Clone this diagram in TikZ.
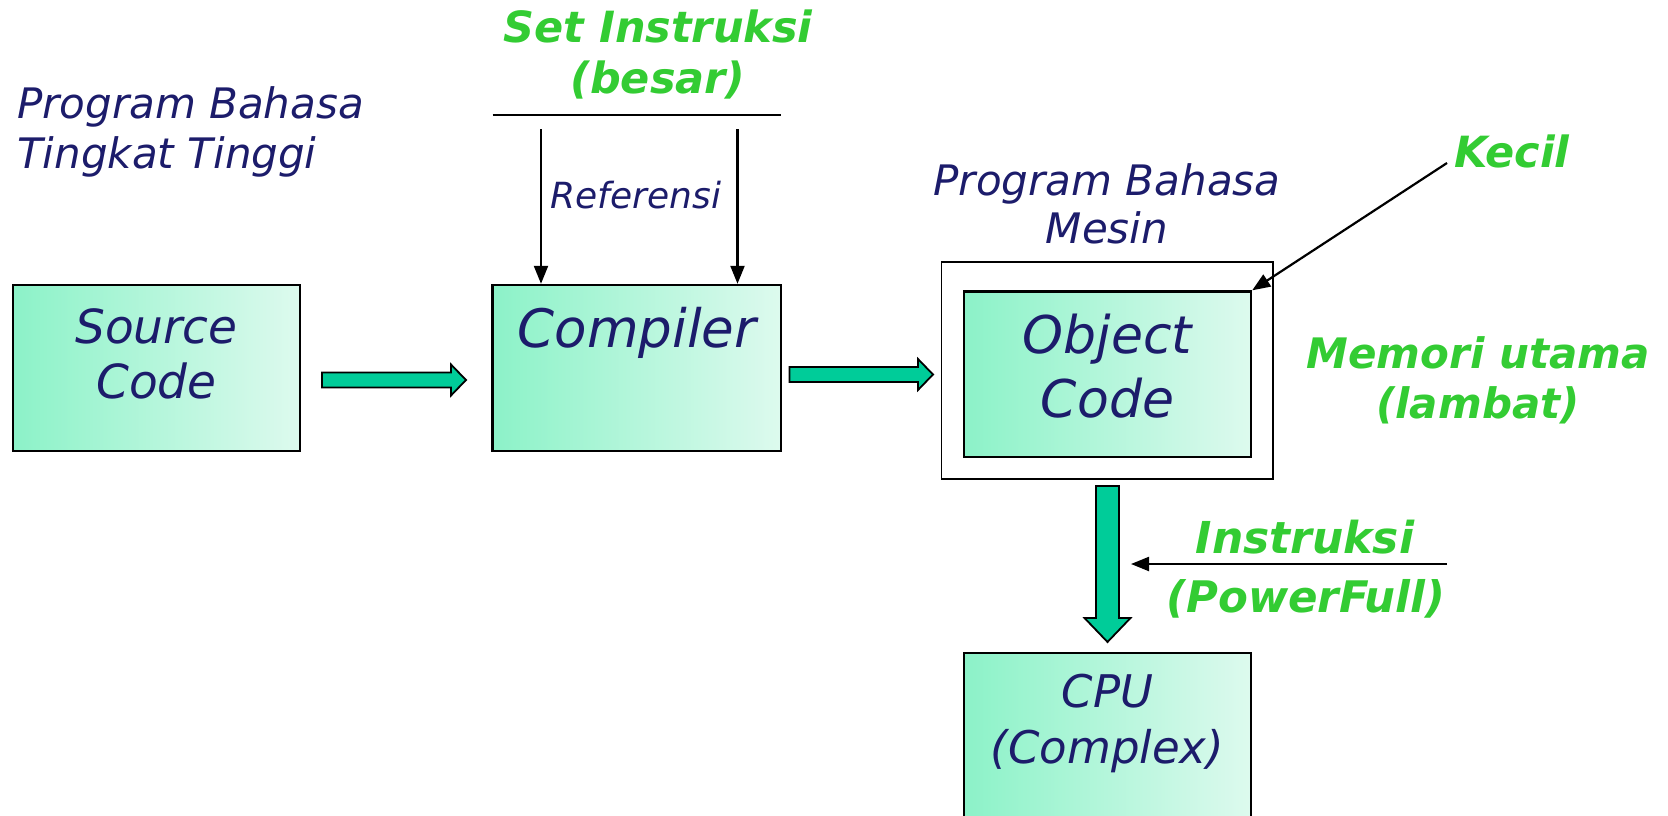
\documentclass[tikz,border=0pt]{standalone}
\usepackage{fontspec}
\setmainfont{DejaVu Sans}
\usetikzlibrary{arrows.meta}
\definecolor{navy}{HTML}{1C1C6B}
\definecolor{lgreen}{HTML}{33CC33}
\definecolor{arrowfill}{HTML}{00CC99}
\definecolor{boxL}{HTML}{8CF2C8}
\definecolor{boxR}{HTML}{DDFAEE}
\newcommand\fsz[1]{\fontsize{#1}{#1}\selectfont}
\tikzset{
  box/.style={draw=black, line width=2.4pt, left color=boxL, right color=boxR, inner sep=0pt},
  frame/.style={draw=black, line width=1.8pt, fill=white, inner sep=0pt},
  nav/.style={text=navy, anchor=base, inner sep=0pt},
  grn/.style={text=lgreen, anchor=base, inner sep=0pt},
  thinarrow/.style={line width=2.2pt, -{Triangle[length=18pt,width=14pt]}},
  block/.style={fill=arrowfill, draw=black, line width=1.8pt, line join=miter},
}
\begin{document}
\begin{tikzpicture}[x=1pt,y=-1pt]
\useasboundingbox (0,0) rectangle (1668,816);
% boxes
\node[box, minimum width=287pt, minimum height=166pt] (src) at (156.4,368) {};
\node[box, minimum width=288.5pt, minimum height=166pt] (comp) at (636.75,368) {};
\node[frame, minimum width=331.5pt, minimum height=217pt] (outer) at (1107.25,370.5) {};
\node[box, minimum width=287pt, minimum height=165.5pt] (obj) at (1107.5,374.25) {};
\node[box, minimum width=287pt, minimum height=177pt] (cpu) at (1107.5,741.5) {};
% texts
\node[nav, anchor=base west, font=\itshape\fsz{42}] (hl1) at (17,118) {Program Bahasa};
\node[nav, anchor=base west, font=\itshape\fsz{42}] (hl2) at (17,168) {Tingkat Tinggi};
\node[grn, font=\bfseries\itshape\fsz{43}] (si1) at (658,43) {Set Instruksi};
\node[grn, font=\bfseries\itshape\fsz{43}] (si2) at (658,93) {(besar)};
\node[nav, font=\itshape\fsz{36}] (ref) at (636,208) {Referensi};
\node[nav, font=\itshape\fsz{47}] (srct1) at (156.4,343) {Source};
\node[nav, font=\itshape\fsz{47}] (srct2) at (156.4,398) {Code};
\node[nav, font=\itshape\fsz{53}] (compt) at (637,347) {Compiler};
\node[nav, font=\itshape\fsz{42}] (pm1) at (1107,195) {Program Bahasa};
\node[nav, font=\itshape\fsz{42}] (pm2) at (1107,243) {Mesin};
\node[nav, font=\itshape\fsz{52}] (objt1) at (1107.5,353) {Object};
\node[nav, font=\itshape\fsz{52}] (objt2) at (1107.5,417) {Code};
\node[grn, font=\bfseries\itshape\fsz{43}] (kec) at (1512,167) {Kecil};
\node[grn, font=\bfseries\itshape\fsz{42}] (mu1) at (1478,368) {Memori utama};
\node[grn, font=\bfseries\itshape\fsz{42}] (mu2) at (1478,418) {(lambat)};
\node[grn, font=\bfseries\itshape\fsz{44}] (ins1) at (1305,553) {Instruksi};
\node[grn, font=\bfseries\itshape\fsz{43.5}] (ins2) at (1306,612) {(PowerFull)};
\node[nav, font=\itshape\fsz{45}] (cput1) at (1107.5,707) {CPU};
\node[nav, font=\itshape\fsz{45}] (cput2) at (1107.5,763) {(Complex)};
% block arrows
\draw[block] (322,372.5) -- (451,372.5) -- (451,364.5) -- (466,380) -- (451,395.5) -- (451,387.5) -- (322,387.5) -- cycle;
\draw[block] (789.5,367) -- (918,367) -- (918,359) -- (933,374.5) -- (918,390) -- (918,382) -- (789.5,382) -- cycle;
\draw[block] (1096,486) -- (1119,486) -- (1119,618) -- (1130.5,618) -- (1107.5,642) -- (1084.5,618) -- (1096,618) -- cycle;
% thin lines and arrows
\coordinate (lnL) at (492.5,115);
\coordinate (lnR) at (781,115);
\draw[line width=1.8pt] (lnL) -- (lnR);
\coordinate (r1) at (541,129);
\coordinate (r2) at (737.5,129);
\draw[thinarrow] (r1) -- (r1 |- comp.north);
\draw[thinarrow] (r2) -- (r2 |- comp.north);
\coordinate (kst) at (1447,163);
\draw[thinarrow] (kst) -- (obj.north east);
\coordinate (ist) at (1447,564);
\coordinate (iend) at (1131,564);
\draw[thinarrow] (ist) -- (iend);
\end{tikzpicture}
\end{document}
